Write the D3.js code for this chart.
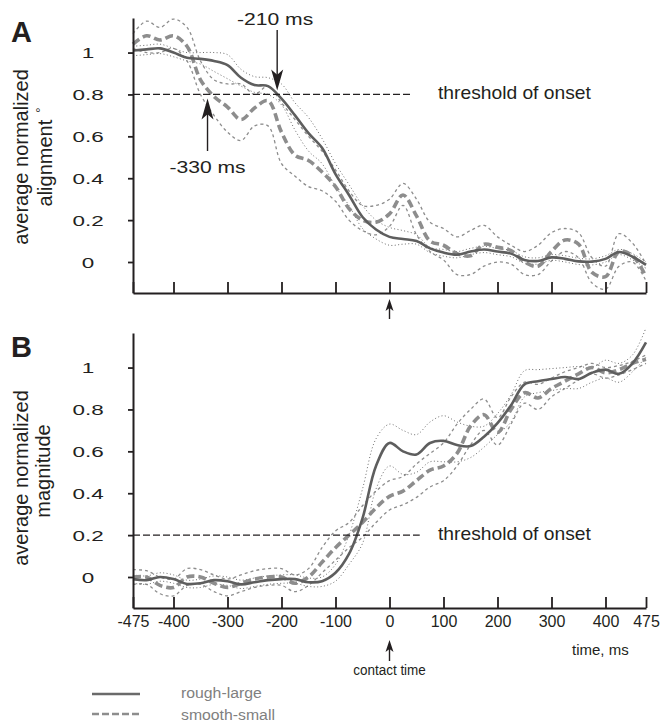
<!DOCTYPE html>
<html>
<head>
<meta charset="utf-8">
<script src="https://cdn.jsdelivr.net/npm/d3@7/dist/d3.min.js"></script>
<style>
  body { margin: 0; background: #fff; }
  svg { display: block; font-family: "Liberation Sans", Arial, Helvetica, sans-serif; }
</style>
</head>
<body>
<svg width="665" height="728"></svg>
<script>
// time axis, ms (sampled every 25 ms)
var times = [-475, -450, -425, -400, -375, -350, -325, -300, -275, -250, -225, -200, -175, -150, -125, -100, -75, -50, -25,
  0, 25, 50, 75, 100, 125, 150, 175, 200, 225, 250, 275, 300, 325, 350, 375, 400, 425, 450, 475]

// panel A: average normalized alignment
var alignRough = [1.01, 1.015, 1.02, 1.0, 0.975, 0.97, 0.96, 0.94, 0.88, 0.845, 0.84, 0.78, 0.7, 0.615, 0.545, 0.42, 0.32, 0.215, 0.155,
  0.12, 0.11, 0.1, 0.065, 0.045, 0.035, 0.05, 0.06, 0.05, 0.04, 0.01, 0.005, 0.022, 0.015, 0.003, 0.002, 0.015, 0.048, 0.025, -0.014]
var alignRoughUp = [1.03, 1.035, 1.04, 1.02, 1.0, 1.0, 1.0, 0.99, 0.92, 0.885, 0.88, 0.85, 0.76, 0.69, 0.59, 0.47, 0.37, 0.27, 0.2,
  0.165, 0.15, 0.13, 0.07, 0.06, 0.05, 0.065, 0.075, 0.065, 0.055, 0.025, 0.02, 0.035, 0.03, 0.018, 0.015, 0.03, 0.06, 0.04, 0.0]
var alignRoughLo = [0.985, 0.99, 0.995, 0.98, 0.96, 0.945, 0.91, 0.875, 0.84, 0.81, 0.8, 0.75, 0.63, 0.53, 0.47, 0.36, 0.27, 0.16, 0.11,
  0.08, 0.085, 0.085, 0.045, 0.028, 0.02, 0.035, 0.045, 0.035, 0.025, -0.005, -0.01, 0.008, 0.0, -0.012, -0.014, 0.0, 0.035, 0.01, -0.03]
var alignSmooth = [1.04, 1.08, 1.06, 1.08, 1.03, 0.87, 0.79, 0.74, 0.68, 0.735, 0.77, 0.62, 0.51, 0.485, 0.43, 0.36, 0.255, 0.2, 0.19,
  0.23, 0.32, 0.22, 0.1, 0.08, 0.04, 0.03, 0.085, 0.07, 0.055, 0.0, -0.02, 0.05, 0.105, 0.085, -0.05, -0.07, 0.05, 0.03, -0.07]
var alignSmoothUp = [1.09, 1.15, 1.12, 1.16, 1.12, 0.96, 0.87, 0.85, 0.85, 0.8, 0.84, 0.76, 0.68, 0.6, 0.53, 0.44, 0.34, 0.27, 0.27,
  0.3, 0.375, 0.3, 0.19, 0.16, 0.12, 0.15, 0.175, 0.12, 0.08, 0.05, 0.08, 0.14, 0.16, 0.14, 0.02, -0.02, 0.135, 0.09, -0.01]
var alignSmoothLo = [1.02, 1.0, 1.0, 1.02, 0.96, 0.8, 0.7, 0.62, 0.58, 0.65, 0.65, 0.47, 0.41, 0.36, 0.34, 0.29, 0.2, 0.15, 0.13,
  0.17, 0.27, 0.13, 0.05, 0.01, -0.06, -0.06, -0.02, 0.0, -0.01, -0.06, -0.06, 0.005, 0.05, 0.02, -0.1, -0.13, -0.02, 0.0, -0.09]

// panel B: average normalized magnitude
var magRough = [-0.01, -0.015, 0.0, -0.01, -0.033, -0.03, -0.015, -0.02, -0.035, -0.025, -0.015, -0.01, -0.01, -0.025, -0.02, 0.02, 0.11, 0.28, 0.53,
  0.64, 0.6, 0.585, 0.64, 0.65, 0.63, 0.625, 0.67, 0.735, 0.82, 0.92, 0.935, 0.945, 0.955, 0.945, 0.975, 0.99, 0.97, 1.02, 1.12]
var magRoughUp = [0.01, 0.005, 0.02, 0.01, -0.015, -0.01, 0.005, 0.0, -0.015, -0.005, 0.005, 0.01, 0.01, -0.005, 0.0, 0.06, 0.2, 0.42, 0.66,
  0.73, 0.7, 0.68, 0.74, 0.77, 0.74, 0.72, 0.72, 0.78, 0.87, 0.985, 0.99, 0.995, 1.0, 1.005, 1.0, 1.035, 1.02, 1.06, 1.19]
var magRoughLo = [-0.03, -0.035, -0.02, -0.03, -0.05, -0.05, -0.035, -0.04, -0.055, -0.045, -0.035, -0.03, -0.03, -0.045, -0.045, -0.02, 0.06, 0.16, 0.42,
  0.53, 0.49, 0.5, 0.55, 0.55, 0.55, 0.57, 0.62, 0.68, 0.74, 0.86, 0.88, 0.89, 0.9, 0.9, 0.93, 0.95, 0.93, 0.98, 1.05]
var magSmooth = [0.0, 0.0, -0.04, -0.05, 0.0, 0.0, -0.03, -0.05, -0.03, -0.01, 0.0, 0.0, -0.03, 0.0, 0.07, 0.14, 0.2, 0.26, 0.33,
  0.385, 0.41, 0.46, 0.51, 0.53, 0.59, 0.72, 0.775, 0.69, 0.8, 0.88, 0.855, 0.9, 0.935, 0.97, 1.0, 0.975, 0.99, 1.02, 1.04]
var magSmoothUp = [0.035, 0.03, 0.0, -0.01, 0.04, 0.035, 0.01, -0.01, 0.01, 0.03, 0.04, 0.04, 0.01, 0.04, 0.14, 0.22, 0.26, 0.34, 0.41,
  0.46, 0.48, 0.54, 0.59, 0.64, 0.73, 0.8, 0.85, 0.76, 0.86, 0.93, 0.92, 0.95, 0.98, 1.0, 1.02, 1.0, 1.01, 1.03, 1.06]
var magSmoothLo = [-0.035, -0.035, -0.08, -0.09, -0.04, -0.035, -0.07, -0.09, -0.07, -0.05, -0.04, -0.04, -0.07, -0.04, 0.02, 0.08, 0.14, 0.19, 0.26,
  0.32, 0.345, 0.38, 0.43, 0.46, 0.53, 0.63, 0.7, 0.63, 0.73, 0.83, 0.8, 0.86, 0.9, 0.94, 0.97, 0.95, 0.965, 0.99, 1.02]

var xTicks = [-475, -400, -300, -200, -100, 0, 100, 200, 300, 400, 475]
var yTicks = [0, 0.2, 0.4, 0.6, 0.8, 1]
var yTickLabels = ['0', '0.2', '0.4', '0.6', '0.8', '1']
var thresholds = [0.8, 0.2]
var onsets = [-210, -330]

var svg = d3.select('svg')
var ink = '#231f20'

var x = d3.scaleLinear().domain([-475, 475]).range([133, 646])

function txt (g, px, py, s, size, anchor, sx, fill) {
  return g.append('text')
    .attr('transform', 'translate(' + px + ',' + py + ') scale(' + (sx || 1) + ',1)')
    .attr('text-anchor', anchor || 'start')
    .style('font-size', size + 'px')
    .style('fill', fill || ink)
    .text(s)
}

// vertical arrow, head at y2
function arrow (px, y1, y2, headLen, headW) {
  var dir = y2 > y1 ? 1 : -1
  svg.append('line')
    .attr('x1', px).attr('x2', px)
    .attr('y1', y1).attr('y2', y2 - dir * headLen * 0.6)
    .style('stroke', ink).style('stroke-width', 1.4)
  svg.append('path')
    .attr('d', 'M' + px + ',' + y2 +
      'L' + (px - headW / 2) + ',' + (y2 - dir * headLen) +
      'L' + px + ',' + (y2 - dir * headLen * 0.75) +
      'L' + (px + headW / 2) + ',' + (y2 - dir * headLen) + 'Z')
    .style('fill', ink)
}

function panel (top, bottom, s, thr, thrEnd, letter, title1, title2, ty1, ty2, tx2, showLabels) {
  var y = d3.scaleLinear().domain([-0.148, 1.165]).range([bottom, top])
  var line = d3.line()
    .x(function (d, i) { return x(times[i]) })
    .y(function (d) { return y(d) })
    .curve(d3.curveCatmullRom.alpha(0.5))

  var styles = [
    { data: s.smoothUp, stroke: '#8d8d8d', width: 1.3, dash: '3,3' },
    { data: s.smoothLo, stroke: '#8d8d8d', width: 1.3, dash: '3,3' },
    { data: s.roughUp, stroke: '#6e6e6e', width: 1, dash: '1,2.4' },
    { data: s.roughLo, stroke: '#6e6e6e', width: 1, dash: '1,2.4' },
    { data: s.smooth, stroke: '#8d8d8d', width: 3.6, dash: '8,4' },
    { data: s.rough, stroke: '#5e5e5e', width: 2.6, dash: null }
  ]
  styles.forEach(function (st) {
    svg.append('path')
      .attr('d', line(st.data))
      .style('fill', 'none')
      .style('stroke', st.stroke)
      .style('stroke-width', st.width)
      .style('stroke-dasharray', st.dash)
  })

  // threshold
  svg.append('line')
    .attr('x1', x(-475)).attr('x2', x(thrEnd))
    .attr('y1', y(thr)).attr('y2', y(thr))
    .style('stroke', ink).style('stroke-width', 1.3).style('stroke-dasharray', '7,3')
  txt(svg, 438, y(thr) + 5, 'threshold of onset', 18.5, 'start', 1.04)

  // axes
  var gx = svg.append('g')
    .attr('transform', 'translate(0,' + bottom + ')')
    .call(d3.axisBottom(x).tickValues(xTicks).tickSizeInner(-11).tickSizeOuter(0).tickPadding(8)
      .tickFormat(showLabels ? function (d) { return d } : function () { return '' }))
  var gy = svg.append('g')
    .attr('transform', 'translate(' + x(-475) + ',0)')
    .call(d3.axisLeft(y).tickValues(yTicks).tickSize(5).tickSizeOuter(0).tickFormat(''))
  ;[gx, gy].forEach(function (g) {
    g.select('.domain').style('stroke', ink).style('stroke-width', 2)
    g.selectAll('.tick line').style('stroke', ink).style('stroke-width', 1.8)
  })
  gx.selectAll('.tick text')
    .style('font-size', '16px').style('fill', ink)
    .style('font-family', '"Liberation Sans", Arial, sans-serif')

  yTicks.forEach(function (v, i) {
    txt(svg, 88, y(v) + 5.7, yTickLabels[i], 15.5, 'middle', 1.45)
  })

  // panel letter
  svg.append('text')
    .attr('x', 11).attr('y', top + 24)
    .style('font-size', '29px').style('font-weight', 'bold').style('fill', ink)
    .text(letter)

  // y title
  svg.append('text')
    .attr('transform', 'translate(28,' + ty1 + ') rotate(-90)')
    .attr('text-anchor', 'middle')
    .style('font-size', '20px').style('fill', ink)
    .text(title1)
  var t2 = svg.append('text')
    .attr('transform', 'translate(' + tx2 + ',' + ty2 + ') rotate(-90)')
    .attr('text-anchor', 'middle')
    .style('font-size', '20px').style('fill', ink)
    .text(title2)
  return { y: y, t2: t2 }
}

var pa = panel(18, 293, {
  rough: alignRough, roughUp: alignRoughUp, roughLo: alignRoughLo,
  smooth: alignSmooth, smoothUp: alignSmoothUp, smoothLo: alignSmoothLo
}, thresholds[0], 40, 'A', 'average normalized', 'alignment', 157, 157, 52, false)
pa.t2.append('tspan').attr('dx', 7).attr('dy', -7).style('font-size', '13px').text('°')

var pb = panel(333, 608, {
  rough: magRough, roughUp: magRoughUp, roughLo: magRoughLo,
  smooth: magSmooth, smoothUp: magSmoothUp, smoothLo: magSmoothLo
}, thresholds[1], 56, 'B', 'average normalized', 'magnitude', 478, 471, 50, true)

// onset annotations (panel A)
arrow(x(onsets[0] + 2), 30, pa.y(thresholds[0]) - 4, 21, 12)
txt(svg, x(onsets[0]) - 1, 25, '-210 ms', 16.5, 'middle', 1.28)
arrow(x(onsets[1] - 7), 151, pa.y(thresholds[0]) + 4, 21, 12)
txt(svg, x(onsets[1] - 7), 173, '-330 ms', 16.5, 'middle', 1.28)

// contact time markers
arrow(x(0), 319, 299, 12, 8)
arrow(x(0), 661, 640, 12, 8)
txt(svg, x(0), 675, 'contact time', 14.5, 'middle', 0.93)
txt(svg, 572, 655, 'time,  ms', 15, 'start', 1)

// legend
svg.append('line').attr('x1', 92).attr('x2', 140).attr('y1', 694).attr('y2', 694)
  .style('stroke', '#6a6a6a').style('stroke-width', 2.6)
svg.append('line').attr('x1', 92).attr('x2', 140).attr('y1', 714).attr('y2', 714)
  .style('stroke', '#8d8d8d').style('stroke-width', 2.4).style('stroke-dasharray', '7,3')
txt(svg, 181, 698, 'rough-large', 15.5, 'start', 1.02, '#808080')
txt(svg, 181, 720, 'smooth-small', 15.5, 'start', 1.02, '#808080')
</script>
</body>
</html>
